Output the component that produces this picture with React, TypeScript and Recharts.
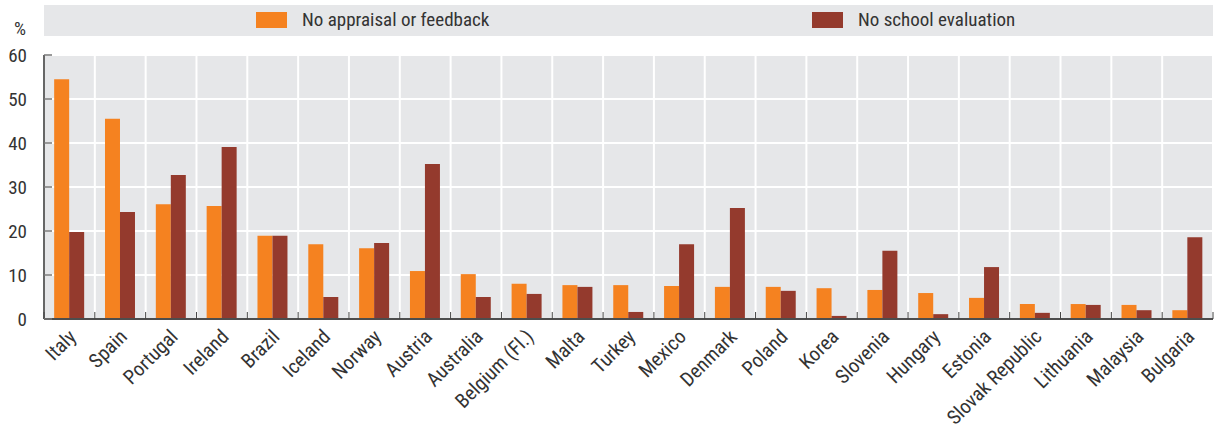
import React from 'react';
import { BarChart, Bar, XAxis, YAxis, CartesianGrid } from 'recharts';

const CATEGORIES = [
  'Italy', 'Spain', 'Portugal', 'Ireland', 'Brazil', 'Iceland', 'Norway', 'Austria',
  'Australia', 'Belgium (Fl.)', 'Malta', 'Turkey', 'Mexico', 'Denmark', 'Poland', 'Korea',
  'Slovenia', 'Hungary', 'Estonia', 'Slovak Republic', 'Lithuania', 'Malaysia', 'Bulgaria',
];
const NO_APPRAISAL = [
  54.5, 45.5, 26.1, 25.7, 18.9, 17.0, 16.1, 10.9, 10.2, 8.0, 7.7, 7.7,
  7.5, 7.3, 7.3, 7.0, 6.6, 5.9, 4.8, 3.4, 3.4, 3.2, 2.0,
];
const NO_SCHOOL_EVAL = [
  19.8, 24.3, 32.7, 39.1, 18.9, 5.0, 17.3, 35.2, 5.0, 5.7, 7.3, 1.6,
  17.0, 25.2, 6.4, 0.7, 15.5, 1.1, 11.8, 1.4, 3.2, 2.0, 18.6,
];
const Y_TICKS = [0, 10, 20, 30, 40, 50, 60];
const SERIES_NAMES = ['No appraisal or feedback', 'No school evaluation'];

const ORANGE = '#f58220';
const BROWN = '#943a2d';
const PANEL = '#e6e7e9';
const TEXT = '#333333';
const FONT = "'Liberation Sans Narrow', 'Arial Narrow', 'Roboto Condensed', sans-serif";
const Y_MARGIN = 17;

const data = CATEGORIES.map((country, i) => ({
  country,
  appraisal: NO_APPRAISAL[i],
  school: NO_SCHOOL_EVAL[i],
}));

function CountryTick(props: any) {
  const { x, y, payload, index } = props;
  const half = payload && payload.offset ? payload.offset : 1169 / CATEGORIES.length / 2;
  const last = index === CATEGORIES.length - 1;
  return (
    <g>
      <line x1={x - half} x2={x - half} y1={y} y2={y - 7} stroke="#444" strokeWidth={1} />
      {last && <line x1={x + half} x2={x + half} y1={y} y2={y - 7} stroke="#444" strokeWidth={1} />}
      <g transform={`translate(${x + 8},${y + 19})`}>
        <text x={0} y={0} textAnchor="end" transform="rotate(-45)" fill={TEXT} fontSize={20} fontFamily={FONT}>
          {payload.value}
        </text>
      </g>
    </g>
  );
}

function ValueTick(props: any) {
  const { x, y, payload } = props;
  const axisX = x + Y_MARGIN;
  return (
    <g>
      <line x1={axisX} x2={axisX + 8} y1={y} y2={y} stroke="#777" strokeWidth={1.5} />
      <text x={x} y={y} dy={7} textAnchor="end" fill={TEXT} fontSize={19} fontFamily={FONT}>
        {payload.value}
      </text>
    </g>
  );
}

export default function App() {
  return (
    <div style={{ position: 'absolute', left: 0, top: 0, width: 1216, height: 428, background: '#fff', fontFamily: FONT }}>
      <div style={{ position: 'absolute', left: 44, top: 5, width: 1169, height: 31, background: PANEL }}>
        <div style={{ position: 'absolute', left: 212, top: 7, width: 31, height: 16, background: ORANGE }} />
        <div style={{ position: 'absolute', left: 258, top: 4, fontSize: 19, color: TEXT, lineHeight: '22px' }}>{SERIES_NAMES[0]}</div>
        <div style={{ position: 'absolute', left: 768, top: 7, width: 31, height: 16, background: BROWN }} />
        <div style={{ position: 'absolute', left: 814, top: 4, fontSize: 19, color: TEXT, lineHeight: '22px' }}>{SERIES_NAMES[1]}</div>
      </div>
      <div style={{ position: 'absolute', left: 14, top: 17, fontSize: 19, color: TEXT }}>%</div>
      <BarChart
        width={1216}
        height={428}
        data={data}
        margin={{ top: 55, right: 3, left: 0, bottom: 0 }}
        barCategoryGap="20%"
        barGap={0}
      >
        <CartesianGrid
          fill={PANEL}
          stroke="#ffffff"
          strokeWidth={2}
          horizontalValues={Y_TICKS}
          verticalCoordinatesGenerator={({ offset }: any) =>
            Array.from({ length: CATEGORIES.length + 1 }, (_, i) => offset.left + (i * offset.width) / CATEGORIES.length)
          }
        />
        <XAxis
          dataKey="country"
          interval={0}
          height={109}
          tickSize={0}
          tickMargin={0}
          tickLine={false}
          axisLine={{ stroke: '#4d4d4d', strokeWidth: 2 }}
          tick={<CountryTick />}
        />
        <YAxis
          width={44}
          domain={[0, 60]}
          ticks={Y_TICKS}
          interval={0}
          tickSize={0}
          tickMargin={Y_MARGIN}
          tickLine={false}
          axisLine={{ stroke: '#666', strokeWidth: 2 }}
          tick={<ValueTick />}
        />
        <Bar dataKey="appraisal" name={SERIES_NAMES[0]} fill={ORANGE} isAnimationActive={false} />
        <Bar dataKey="school" name={SERIES_NAMES[1]} fill={BROWN} isAnimationActive={false} />
      </BarChart>
    </div>
  );
}
